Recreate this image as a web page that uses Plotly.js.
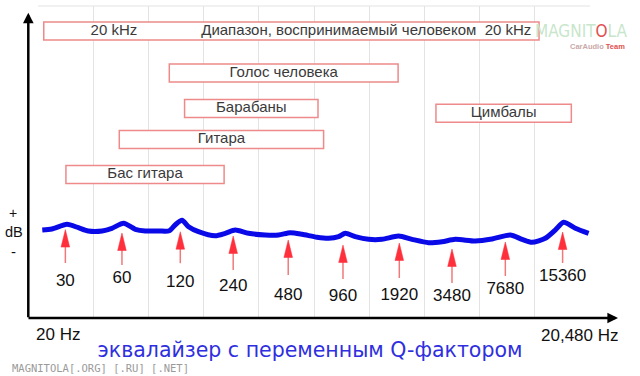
<!DOCTYPE html>
<html><head><meta charset="utf-8">
<script src="https://cdn.plot.ly/plotly-3.0.1.min.js"></script>
<style>html,body{margin:0;padding:0;background:#fff}#chart{width:640px;height:376px}</style>
</head><body><div id="chart"></div>
<script>
// ---- data ----
const gridHz = [20, 40, 80, 160, 320, 640, 1280, 2560, 5120, 10240, 20480];

const curveHz = [21.1, 23.8, 28.8, 33.2, 37.6, 44.7, 50.6, 58.6, 67.9, 77.0, 90.9, 104, 113, 122, 132.5, 150, 185, 210, 238, 281, 347, 410, 475, 551, 664, 769, 872, 948, 1075, 1270, 1503, 1852, 2190, 2698, 3194, 3774, 4850, 5984, 7528, 8720, 9884, 11682, 13240, 14704, 17032, 20120];
const curveDb = [0.33, 0.5, 1.28, 0.72, 0.17, 0.17, 0.62, 1.45, 0.45, 0.17, 0.17, 0.2, 1.3, 1.95, 0.88, 0.05, -0.62, -0.22, 0.33, -0.22, -0.5, -0.5, -0.12, -0.38, -0.87, -1.05, -0.78, -0.22, -0.78, -1.22, -1.22, -0.67, -1.22, -1.78, -1.62, -1.22, -1.5, -1.17, -0.5, -1.22, -1.72, -1.05, 0.33, 1.62, 0.62, -0.22];

const arrowLabels = ['30', '60', '120', '240', '480', '960', '1920', '3480', '7680', '15360'];
const arrowHz = [28.2, 57.4, 119.4, 232, 463, 921, 1868, 3620, 7072, 14520];
const arrowTipDb = [0.4, -0.17, 0.05, -0.67, -1.33, -2.17, -1.83, -2.83, -1.67, 0];
const arrowTailDb = [-5.17, -5.5, -5.2, -6.33, -7.17, -7.83, -7.67, -8.5, -7.33, -5.17];
const labelDb = [-8.33, -7.83, -8.5, -9.17, -10.67, -10.83, -10.67, -10.83, -9.67, -7.5];

const bandNames = ['Голос человека', 'Барабаны', 'Гитара', 'Бас\u00a0гитара', 'Цимбалы'];
const bandLowHz = [104, 126, 55.5, 28.4, 2960];
const bandHighHz = [1840, 673, 722, 207, 16200];
const bandRowDb = [26.5, 20.6, 15.4, 9.6, 19.8];

const hearingLowHz = 21.5, hearingHighHz = 10800, hearingRowDb = 33.5;
const hearingTexts = ['20 kHz', 'Диапазон, воспринимаемый человеком\u00a0\u00a020 kHz'];
const hearingTextHz = [51.9, 1234];

// ---- layout helpers (pixel geometry) ----
const W = 640, H = 376, L = 38, R = 50, T = 6, B = 58;
const PW = W - L - R, PH = H - T - B;
const pxPerDb = 6;
const yMin = -(318 - 232) / pxPerDb, yMax = (232 - 6) / pxPerDb;
const px = x => (x - L) / PW;
const py = y => (H - B - y) / PH;
const octPx = PW / 10;
const headHalf = Math.pow(2, 4.3 / octPx);
const headLen = 17.5 / pxPerDb;
const boxHalf = 9 / pxPerDb;

// arrows
const shaftX = [], shaftY = [], headX = [], headY = [];
arrowHz.forEach((f, i) => {
  shaftX.push(f, f, null);
  shaftY.push(arrowTailDb[i], arrowTipDb[i] - headLen * 0.9, null);
  headX.push(f / headHalf, f, f * headHalf, f / headHalf, null);
  headY.push(arrowTipDb[i] - headLen, arrowTipDb[i], arrowTipDb[i] - headLen, arrowTipDb[i] - headLen, null);
});

const textFont = {family: 'Liberation Sans, Arial, sans-serif', size: 15, color: '#3a3a3a'};

const traces = [
  {x: curveHz, y: curveDb, mode: 'lines', line: {color: '#0a0ae8', width: 5, shape: 'spline', smoothing: 0.7}, hoverinfo: 'skip'},
  {x: shaftX, y: shaftY, mode: 'lines', line: {color: '#f07a7a', width: 1.5}, hoverinfo: 'skip'},
  {x: headX, y: headY, mode: 'lines', fill: 'toself', fillcolor: '#ff2f3c', line: {color: '#ff2f3c', width: 0.5}, hoverinfo: 'skip'},
  {x: arrowHz, y: labelDb, mode: 'text', text: arrowLabels, textposition: 'middle center',
   textfont: {family: 'Liberation Sans, Arial, sans-serif', size: 17, color: '#111'}, hoverinfo: 'skip'},
  {x: bandLowHz.map((lo, i) => Math.sqrt(lo * bandHighHz[i])), y: bandRowDb, mode: 'text', text: bandNames,
   textposition: 'middle center', textfont: textFont, hoverinfo: 'skip'},
  {x: hearingTextHz, y: [hearingRowDb, hearingRowDb], mode: 'text', text: hearingTexts,
   textposition: 'middle center', textfont: textFont, hoverinfo: 'skip'}
];

const shapes = [
  {type: 'line', xref: 'paper', yref: 'paper', x0: 0, x1: 1, y0: 1, y1: 1, line: {color: '#e3e3e3', width: 1}, layer: 'below'},
  {type: 'rect', xref: 'x', yref: 'y', x0: hearingLowHz, x1: hearingHighHz, y0: hearingRowDb - boxHalf, y1: hearingRowDb + boxHalf,
   line: {color: '#ee8a8a', width: 1.5}, fillcolor: '#ffffff', layer: 'between'}
];
bandNames.forEach((n, i) => shapes.push({
  type: 'rect', xref: 'x', yref: 'y', x0: bandLowHz[i], x1: bandHighHz[i],
  y0: bandRowDb[i] - boxHalf, y1: bandRowDb[i] + boxHalf,
  line: {color: '#ee8a8a', width: 1.5}, fillcolor: '#ffffff', layer: 'between'
}));

const arrowCommon = {xref: 'paper', yref: 'paper', axref: 'pixel', ayref: 'pixel', text: '', showarrow: true,
  arrowhead: 2, arrowwidth: 2.5, arrowsize: 0.85, arrowcolor: '#000'};
const lbl = (t, x, y, size, extra) => Object.assign({xref: 'paper', yref: 'paper', x: px(x), y: py(y), text: t,
  showarrow: false, xanchor: 'center', yanchor: 'middle',
  font: {family: 'Liberation Sans, Arial, sans-serif', size: size, color: '#111'}}, extra || {});

const annotations = [
  Object.assign({x: px(28.3), y: py(12.7), ax: 0, ay: 306}, arrowCommon),
  Object.assign({x: px(618), y: py(318), ax: -591, ay: 0}, arrowCommon),
  lbl('+', 13.3, 213, 14),
  lbl('dB', 14, 232, 14.5),
  lbl('-', 13.3, 251, 15),
  lbl('20 Hz', 57.5, 334, 17),
  lbl('20,480 Hz', 580, 335, 17),
  lbl('MAGNITOLA[.ORG] [.RU] [.NET]', 10, 367.5, 10.5, {xanchor: 'left', font: {family: 'DejaVu Sans Mono, monospace', size: 10.5, color: '#9a9a9a'}}),
  lbl('MAGNIT<span style="color:#e25050">O</span>LA', 581, 31, 17, {font: {family: 'Liberation Sans Narrow, DejaVu Sans Condensed, Arial Narrow, sans-serif', size: 17, color: '#c7e6cb'}}),
  lbl('<b>CarAudio <span style="color:#e05050">Team</span></b>', 597, 46, 7.5, {font: {family: 'Liberation Sans, Arial, sans-serif', size: 7.5, color: '#c9a9a9'}})
];

const layout = {
  width: W, height: H, margin: {l: L, r: R, t: T, b: B, pad: 0},
  paper_bgcolor: '#fff', plot_bgcolor: '#fff', showlegend: false,
  title: {text: 'эквалайзер с переменным Q-фактором', x: 310 / W, y: 1 - 350 / H, xanchor: 'center', yanchor: 'middle',
    xref: 'container', yref: 'container',
    font: {family: 'DejaVu Sans, Verdana, sans-serif', size: 20.5, color: '#2f2fe0'}},
  xaxis: {type: 'log', range: [Math.log10(20), Math.log10(20480)], tickvals: gridHz, showticklabels: false, ticks: '',
    showgrid: true, gridcolor: '#e3e3e3', gridwidth: 1, zeroline: false, showline: false, fixedrange: true},
  yaxis: {range: [yMin, yMax], showgrid: false, zeroline: false, showticklabels: false, ticks: '', showline: false, fixedrange: true},
  shapes: shapes, annotations: annotations
};

Plotly.newPlot('chart', traces, layout, {displayModeBar: false, staticPlot: true});
</script></body></html>
